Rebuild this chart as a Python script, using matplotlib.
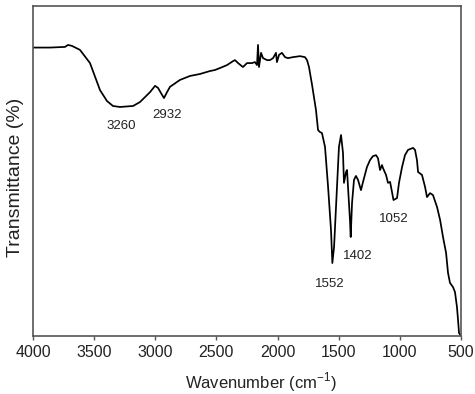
import numpy as np
import matplotlib
matplotlib.use("Agg")
import matplotlib.pyplot as plt

plt.rcParams["font.family"] = ["Liberation Sans", "DejaVu Sans"]
plt.rcParams["mathtext.fontset"] = "custom"
plt.rcParams["mathtext.rm"] = "Liberation Sans"

# FTIR spectrum (wavenumber in cm-1, transmittance in arbitrary %)
wavenumber = [
    4000, 3861, 3738, 3714, 3681, 3616, 3534, 3452, 3395, 3346, 3289, 3182,
    3125, 3084, 3043, 3002, 2978, 2953, 2929, 2904, 2880, 2798, 2716, 2634,
    2552, 2512, 2471, 2413, 2364, 2348, 2323, 2283, 2250, 2209, 2185, 2168,
    2160, 2152, 2135, 2119, 2086, 2062, 2037, 2013, 2005, 1988, 1964, 1939,
    1915, 1874, 1816, 1776, 1759, 1743, 1718, 1686, 1669, 1653, 1637, 1612,
    1587, 1563, 1552, 1538, 1514, 1498, 1481, 1465, 1457, 1440, 1432, 1424,
    1408, 1402, 1391, 1375, 1359, 1342, 1318, 1301, 1269, 1244, 1220, 1195,
    1179, 1162, 1146, 1138, 1113, 1097, 1080, 1064, 1052, 1023, 1007, 982,
    958, 933, 892, 876, 860, 851, 819, 794, 778, 753, 729, 696,
    671, 647, 622, 606, 590, 565, 549, 533, 524, 516, 500,
]
transmittance = [
    87.4, 87.4, 87.6, 88.2, 87.9, 86.7, 82.7, 74.5, 71.2, 69.7, 69.4, 69.7,
    70.9, 72.4, 73.9, 75.8, 75.2, 73.6, 72.1, 73.9, 75.5, 77.6, 78.8, 79.4,
    80.3, 80.6, 81.2, 82.1, 83.3, 83.6, 82.7, 81.5, 82.7, 82.7, 83.0, 82.1,
    88.2, 81.5, 85.8, 84.2, 83.6, 83.6, 84.2, 85.8, 83.0, 85.2, 85.8, 84.5,
    84.2, 84.5, 84.8, 84.5, 83.6, 81.5, 76.1, 68.5, 62.4, 61.8, 61.5, 57.3,
    45.2, 32.1, 22.1, 27.0, 45.2, 57.3, 60.9, 55.5, 46.4, 49.7, 50.3, 45.2,
    35.2, 30.0, 40.3, 47.3, 48.5, 47.3, 44.2, 46.7, 51.2, 53.3, 54.5, 54.8,
    53.9, 50.3, 51.8, 50.9, 48.8, 46.4, 46.7, 43.6, 41.2, 41.8, 46.4, 51.2,
    54.8, 56.4, 57.0, 56.4, 53.3, 49.7, 48.8, 45.2, 42.1, 43.3, 42.7, 39.1,
    35.2, 30.0, 25.2, 19.1, 16.1, 14.8, 13.3, 8.8, 4.8, 0.9, 0.0,
]

# peak labels and where their text sits
peak_labels = ["3260", "2932", "1552", "1402", "1052"]
label_x = [3280, 2904, 1571, 1342, 1048]
label_y = [63.6, 67.0, 15.8, 24.2, 35.5]

x_ticks = [4000, 3500, 3000, 2500, 2000, 1500, 1000, 500]

fig = plt.figure(figsize=(4.75, 3.94), dpi=100)
ax = fig.add_axes([0.0695, 0.1472, 0.901, 0.8376])

ax.plot(wavenumber, transmittance, color="black", lw=1.25)
for lab, lx, ly in zip(peak_labels, label_x, label_y):
    ax.text(lx, ly, lab, ha="center", va="center", fontsize=9.5, color="#222222")

ax.set_xlim(4000, 500)
ax.set_ylim(0, 100)
ax.set_xticks(x_ticks)
ax.set_yticks([])
ax.tick_params(axis="x", direction="out", length=3, width=1, pad=3.5,
               labelsize=11.5, colors="#555555", labelcolor="#222222")
for sp in ax.spines.values():
    sp.set_color("#555555")
    sp.set_linewidth(1.2)

ax.set_xlabel(r"Wavenumber (cm$^{\mathregular{-1}}$)", fontsize=12, color="#222222")
ax.xaxis.set_label_coords(0.533, -0.105)
ax.set_ylabel("Transmittance (%)", fontsize=14, color="#222222")
ax.yaxis.set_label_coords(-0.042, 0.48)
ax.yaxis.label.set_va("center")

fig.savefig("out.png", dpi=100)
